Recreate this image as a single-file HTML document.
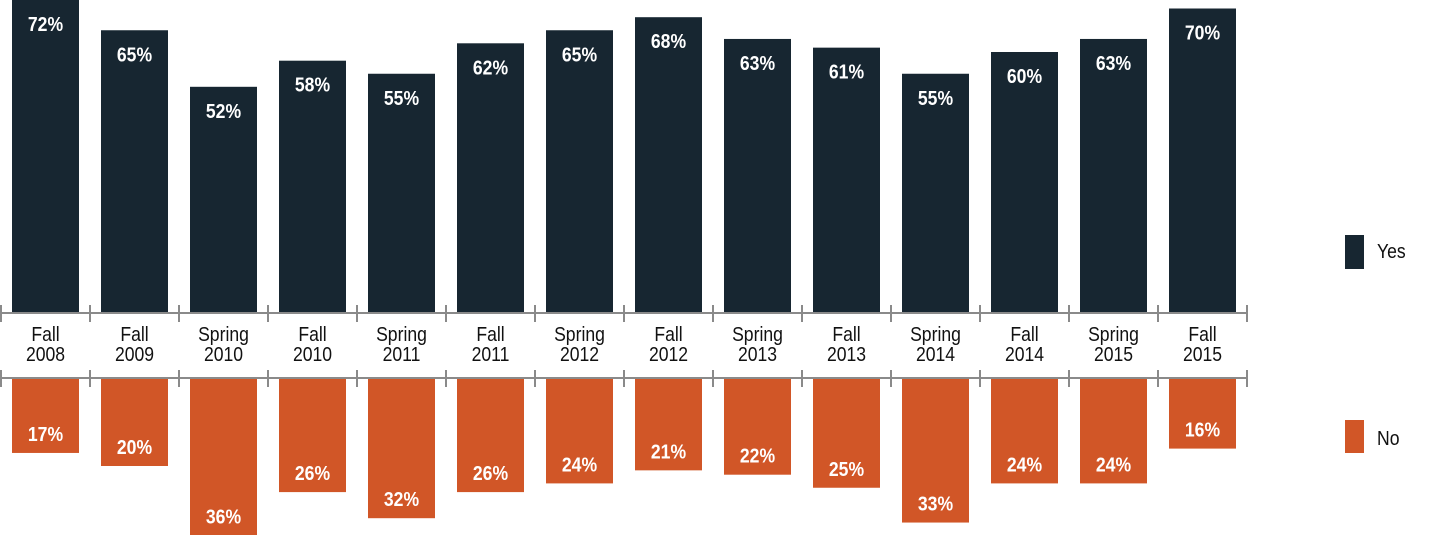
<!DOCTYPE html>
<html><head><meta charset="utf-8"><style>
html,body{margin:0;padding:0;background:#fff;width:1429px;height:535px;overflow:hidden}
svg text{font-family:"Liberation Sans Narrow","Liberation Sans",sans-serif}
</style></head><body>
<svg id="chart" width="1429" height="535" xmlns="http://www.w3.org/2000/svg">
<g id="g"></g>
<rect x="1345" y="235" width="19" height="34" fill="#172631"/>
<text x="0" y="0" font-size="20" fill="#111" transform="translate(1377,258) scale(0.88,1)">Yes</text>
<rect x="1345" y="420" width="19" height="33" fill="#d15627"/>
<text x="0" y="0" font-size="20" fill="#111" transform="translate(1377,445) scale(0.88,1)">No</text>
</svg>
<script>
const categories1=["Fall","Fall","Spring","Fall","Spring","Fall","Spring","Fall","Spring","Fall","Spring","Fall","Spring","Fall"];
const categories2=["2008","2009","2010","2010","2011","2011","2012","2012","2013","2013","2014","2014","2015","2015"];
const yesValues=[72,65,52,58,55,62,65,68,63,61,55,60,63,70];
const noValues=[17,20,36,26,32,26,24,21,22,25,33,24,24,16];
const NS="http://www.w3.org/2000/svg";
const g=document.getElementById('g');
const step=89, x0=1, barW=67, scale=4.35, topBase=313, botBase=379;
const xAt=i=>x0+step*(i+0.5);
const yTop=v=>topBase-v*scale;
const yBot=v=>botBase+v*scale;
function mk(tag,attrs){const e=document.createElementNS(NS,tag);for(const k in attrs)e.setAttribute(k,attrs[k]);g.appendChild(e);return e;}
function txt(x,y,s,attrs){const t=mk('text',Object.assign({x:0,y:0,'text-anchor':'middle','font-size':'20',transform:'translate('+x+','+y+') scale(0.88,1)'},attrs));t.textContent=s;return t;}
yesValues.forEach((v,i)=>{
  const r=mk('rect',{x:xAt(i)-barW/2,y:yTop(v),width:barW,height:topBase-yTop(v),fill:'#172631'});
  
  
  const t=txt(xAt(i),yTop(v)+31,v+'%',{'font-weight':'bold',fill:'#fff'});
  
  
});
noValues.forEach((v,i)=>{
  const r=mk('rect',{x:xAt(i)-barW/2,y:botBase,width:barW,height:yBot(v)-botBase,fill:'#d15627'});
  
  
  const t=txt(xAt(i),yBot(v)-12,v+'%',{'font-weight':'bold',fill:'#fff'});
  
  
});
[313,378].forEach((y,k)=>{
  const l=mk('line',{x1:0,x2:x0+step*categories1.length,y1:y,y2:y,stroke:'#8a8a8a','stroke-width':2});
  
  
  for(let i=0;i<=categories1.length;i++){
    const tk=mk('line',{x1:x0+step*i,x2:x0+step*i,y1:y-8,y2:y+9,stroke:'#8a8a8a','stroke-width':2});
    
    
  }
});
categories1.forEach((c,i)=>{
  const t=txt(xAt(i),341,c,{fill:'#111'});
  
  
  const t2=txt(xAt(i),361,categories2[i],{fill:'#111'});
  
  
});
</script>
</body></html>
